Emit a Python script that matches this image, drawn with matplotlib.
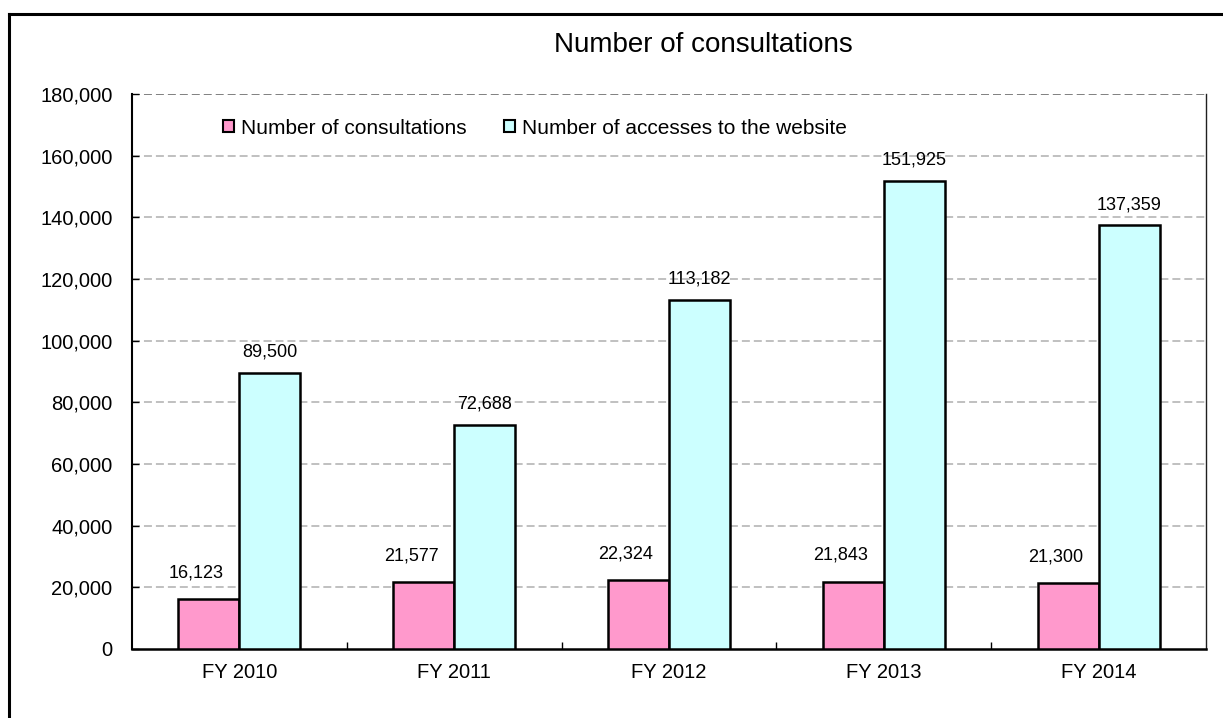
import matplotlib
matplotlib.use("Agg")
import matplotlib.pyplot as plt
from matplotlib.patches import Patch
from matplotlib.lines import Line2D
from matplotlib.ticker import FuncFormatter, MultipleLocator, FixedLocator
import numpy as np

plt.rcParams['font.family'] = ['Liberation Sans', 'DejaVu Sans']

years = ["FY 2010", "FY 2011", "FY 2012", "FY 2013", "FY 2014"]
consultations = [16123, 21577, 22324, 21843, 21300]
web_accesses = [89500, 72688, 113182, 151925, 137359]
series_names = ["Number of consultations", "Number of accesses to the website"]
title = "Number of consultations"

pink = "#FF99CC"
cyan = "#CCFFFF"

W, H = 1223, 718
fig = plt.figure(figsize=(W / 100, H / 100), dpi=100)
ax = fig.add_axes([132 / W, 1 - 649 / H, (1206 - 132) / W, (649 - 94) / H])

x = np.arange(len(years))
bw = 0.284
b1 = ax.bar(x - bw / 2, consultations, bw, color=pink, edgecolor="black", linewidth=1.8, zorder=3)
b2 = ax.bar(x + bw / 2, web_accesses, bw, color=cyan, edgecolor="black", linewidth=1.8, zorder=3)

ax.set_xlim(-0.5, len(years) - 0.5)
ax.set_ylim(0, 180000)
ax.yaxis.set_major_locator(MultipleLocator(20000))
ax.yaxis.set_major_formatter(FuncFormatter(lambda v, p: f"{int(v):,}"))

# dashed horizontal gridlines
for v in range(20000, 180001, 20000):
    col = "#808080" if v == 180000 else "#C0C0C0"
    ax.axhline(v, color=col, lw=1.4, dashes=(4.1, 2.05), zorder=1)

ax.set_xticks(x)
ax.set_xticklabels(years)
ax.xaxis.set_minor_locator(FixedLocator(x[:-1] + 0.5))
ax.tick_params(axis="x", which="major", length=0, pad=10, labelsize=14.5)
ax.tick_params(axis="x", which="minor", direction="in", length=5, width=1, color="black")
ax.tick_params(axis="y", direction="in", length=5, width=1, pad=14, labelsize=14.5)

ax.spines["top"].set_visible(False)
ax.spines["left"].set_linewidth(1.5)
ax.spines["bottom"].set_linewidth(1.8)
ax.spines["right"].set_linewidth(1.0)
ax.spines["right"].set_color("#202020")

# value labels
for xi, v in zip(x, consultations):
    ax.annotate(f"{v:,}", (xi - bw / 2, v), xytext=(-9, 19), textcoords="offset points",
                ha="center", va="center", fontsize=13, zorder=4)
for xi, v in zip(x, web_accesses):
    ax.annotate(f"{v:,}", (xi + bw / 2, v), xytext=(0, 15), textcoords="offset points",
                ha="center", va="center", fontsize=13, zorder=4)

handles = [Patch(facecolor=pink, edgecolor="black", linewidth=1.5),
           Patch(facecolor=cyan, edgecolor="black", linewidth=1.5)]
fig.legend(handles, series_names, loc="center left",
           bbox_to_anchor=(223 / W, 1 - 128 / H), bbox_transform=fig.transFigure,
           ncol=2, frameon=False, fontsize=15, handlelength=0.55, handleheight=0.55,
           handletextpad=0.3, columnspacing=1.8, borderpad=0, borderaxespad=0)

fig.text(703 / W, 1 - 45 / H, title, ha="center", va="center", fontsize=20)

# outer frame (left and top edges)
fig.add_artist(Line2D([9 / W, 9 / W], [0, 1 - 14 / H], color="black", lw=2.2, transform=fig.transFigure))
fig.add_artist(Line2D([9 / W, 1], [1 - 14 / H, 1 - 14 / H], color="black", lw=2.2, transform=fig.transFigure))

fig.savefig("out.png", dpi=100)
